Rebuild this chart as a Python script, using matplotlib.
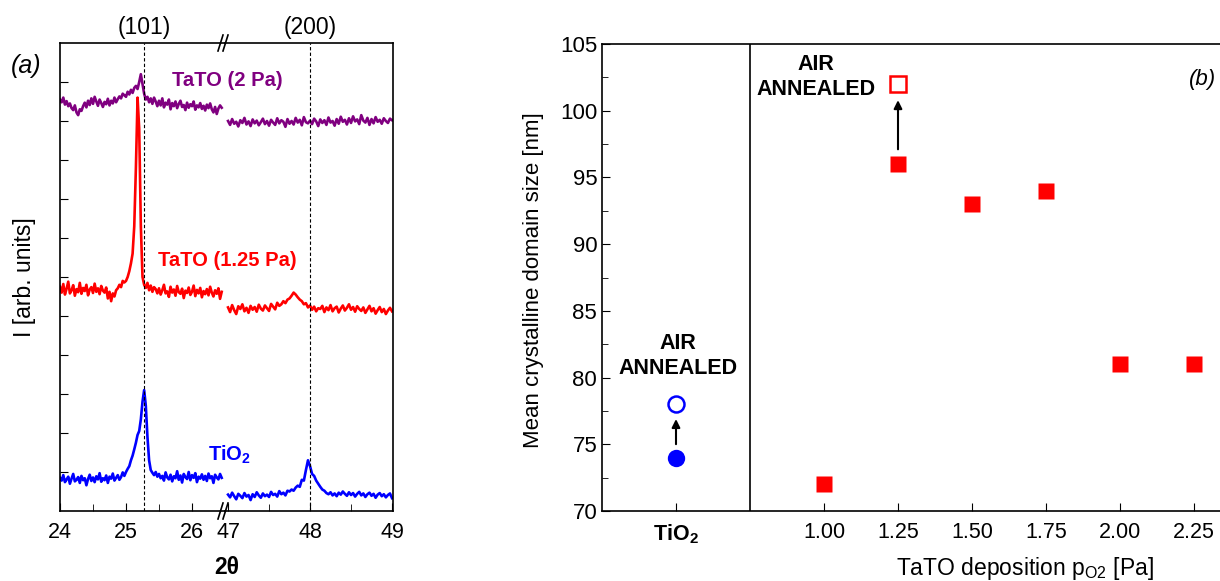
import numpy as np
import matplotlib
matplotlib.use('Agg')
from matplotlib import pyplot as plt

plt.rcParams['font.family'] = ['Liberation Sans', 'DejaVu Sans']
plt.rcParams['mathtext.fontset'] = 'custom'
plt.rcParams['mathtext.rm'] = 'Liberation Sans'
plt.rcParams['mathtext.bf'] = 'Liberation Sans:bold'
plt.rcParams['mathtext.it'] = 'Liberation Sans:italic'

# ---------------- panel (a): XRD spectra (arb. units, offset) ----------------
x_low_start, x_low_step = 24.0, 0.025
x_high_start, x_high_step = 47.0, 0.025

tio2_low = [0.85, 0.78, 0.92, 0.74, 0.81, 0.88, 0.70, 0.83, 0.95, 0.76,
            0.80, 0.87, 0.72, 0.90, 0.79, 0.84, 0.66, 0.82, 0.93, 0.77,
            0.86, 0.74, 0.89, 0.81, 0.97, 0.75, 0.84, 0.79, 0.91, 0.72,
            0.88, 0.83, 0.96, 0.78, 0.85, 0.92, 0.80, 0.87, 0.99, 0.90,
            1.00, 1.08, 1.15, 1.30, 1.42, 1.58, 1.75, 1.95, 2.05, 2.35,
            2.80, 3.10, 2.70, 1.90, 1.30, 1.05, 0.98, 0.92, 1.00, 0.88,
            0.95, 0.84, 0.90, 0.78, 0.99, 0.86, 0.81, 0.93, 0.76, 0.89,
            0.84, 1.02, 0.80, 0.91, 0.73, 0.95, 0.87, 0.82, 1.00, 0.79,
            0.92, 0.85, 0.97, 0.74, 0.88, 0.83, 0.94, 0.80, 0.90, 0.77,
            0.96, 0.84, 0.89, 0.72, 0.93, 0.86, 0.81, 0.95, 0.85]
tio2_high = [0.42, 0.35, 0.47, 0.38, 0.30, 0.44, 0.39, 0.33, 0.46, 0.37,
             0.41, 0.28, 0.43, 0.36, 0.48, 0.40, 0.34, 0.45, 0.38, 0.42,
             0.36, 0.49, 0.41, 0.44, 0.37, 0.51, 0.43, 0.47, 0.40, 0.52,
             0.50, 0.55, 0.52, 0.60, 0.65, 0.62, 0.80, 0.78, 1.05, 1.30,
             1.15, 0.95, 0.90, 0.78, 0.70,
             0.62, 0.55, 0.52, 0.46, 0.43, 0.48, 0.40, 0.45, 0.38, 0.47,
             0.42, 0.50, 0.44, 0.39, 0.48, 0.41, 0.46, 0.37, 0.44, 0.49,
             0.40, 0.45, 0.36, 0.43, 0.47, 0.39, 0.44, 0.34, 0.42, 0.46,
             0.38, 0.43, 0.35, 0.41, 0.45, 0.33]

tato125_low = [5.75, 5.60, 5.82, 5.55, 5.70, 5.88, 5.58, 5.66, 5.79, 5.52,
               5.69, 5.61, 5.85, 5.57, 5.72, 5.64, 5.80, 5.53, 5.68, 5.74,
               5.59, 5.83, 5.62, 5.71, 5.56, 5.77, 5.65, 5.60, 5.73, 5.45,
               5.62, 5.38, 5.58, 5.50, 5.66, 5.71, 5.80, 5.74, 5.90, 5.86,
               5.90, 6.00, 6.15, 6.35, 6.60, 7.30, 8.80, 10.60, 9.80, 7.30,
               6.00, 5.80, 5.72, 5.85, 5.66, 5.78, 5.62, 5.74, 5.69, 5.58,
               5.71, 5.55, 5.66, 5.80, 5.58, 5.63, 5.49, 5.75, 5.60, 5.68,
               5.52, 5.77, 5.61, 5.57, 5.70, 5.46, 5.65, 5.59, 5.73, 5.54,
               5.62, 5.78, 5.51, 5.67, 5.58, 5.72, 5.48, 5.64, 5.56, 5.69,
               5.53, 5.75, 5.60, 5.50, 5.66, 5.57, 5.71, 5.44, 5.62]
tato125_high = [5.22, 5.10, 5.28, 5.15, 5.05, 5.25, 5.18, 5.30, 5.12, 5.21,
                5.08, 5.26, 5.16, 5.23, 5.11, 5.29, 5.19, 5.14, 5.27, 5.20,
                5.13, 5.31, 5.24, 5.17, 5.34, 5.26, 5.30, 5.38, 5.33, 5.42,
                5.45, 5.52, 5.60, 5.55, 5.48, 5.42, 5.38, 5.30, 5.33, 5.22,
                5.27, 5.16, 5.24, 5.12, 5.20,
                5.18, 5.26, 5.10, 5.22, 5.15, 5.28, 5.12, 5.20, 5.24, 5.09,
                5.19, 5.27, 5.14, 5.21, 5.30, 5.16, 5.23, 5.11, 5.25, 5.18,
                5.13, 5.22, 5.08, 5.17, 5.26, 5.12, 5.20, 5.06, 5.15, 5.23,
                5.10, 5.18, 5.05, 5.14, 5.21, 5.12]

tato2_low = [10.55, 10.48, 10.60, 10.42, 10.51, 10.38, 10.45, 10.33, 10.28, 10.40,
             10.22, 10.15, 10.30, 10.26, 10.38, 10.47, 10.35, 10.52, 10.41, 10.58,
             10.44, 10.62, 10.50, 10.39, 10.55, 10.46, 10.36, 10.49, 10.43, 10.57,
             10.40, 10.52, 10.45, 10.60, 10.48, 10.56, 10.63, 10.58, 10.70, 10.66,
             10.62, 10.75, 10.68, 10.80, 10.72, 10.85, 10.90, 10.82, 11.00, 11.20,
             10.95, 10.70, 10.55, 10.62, 10.48, 10.58, 10.44, 10.60, 10.50, 10.38,
             10.52, 10.40, 10.58, 10.35, 10.47, 10.42, 10.55, 10.30, 10.46, 10.38,
             10.50, 10.33, 10.44, 10.52, 10.36, 10.41, 10.28, 10.47, 10.34, 10.43,
             10.38, 10.50, 10.29, 10.40, 10.35, 10.46, 10.31, 10.39, 10.27, 10.42,
             10.33, 10.45, 10.30, 10.22, 10.36, 10.18, 10.32, 10.40, 10.34]
tato2_high = [10.00, 9.90, 10.05, 9.93, 9.98, 9.86, 10.02, 9.95, 10.08, 9.91,
              9.99, 9.87, 10.04, 9.94, 10.01, 9.89, 9.97, 10.06, 9.92, 10.00,
              9.88, 10.03, 9.96, 9.90, 10.07, 9.94, 10.02, 9.98, 9.85, 10.05,
              9.93, 10.00, 9.91, 10.08, 9.96, 10.03, 9.89, 10.10, 9.97, 9.94,
              10.01, 9.92, 10.06, 9.99, 9.87, 10.04, 9.95, 10.02, 9.90, 10.09,
              9.96, 10.00, 9.88, 10.05, 9.93, 10.11, 9.98, 10.03, 9.91, 10.07,
              9.95, 10.12, 9.99, 10.04, 9.92, 10.15, 10.01, 9.96, 10.08, 9.90,
              10.05, 9.94, 10.10, 9.98, 10.03, 9.93, 10.07, 10.00, 9.95, 10.06,
              10.02]

peak_pos = [25.27, 48.0]
peak_names = ['(101)', '(200)']

# ---------------- panel (b): domain size ----------------
tio2_x = 0.5
tio2_asdep, tio2_ann = 74, 78
p_o2 = [1.00, 1.25, 1.50, 1.75, 2.00, 2.25]
size_tato = [72, 96, 93, 94, 81, 81]
p_ann, size_ann = 1.25, 102

W, H = 1220, 581
def fx(px):
    return px / W
def fy(py):
    return 1 - py / H

fig = plt.figure(figsize=(12.2, 5.81), dpi=100)

# left panel: broken x axis made of two axes
bot, hgt = fy(511), (511 - 43) / H
a1 = fig.add_axes([fx(60), bot, fx(165), hgt])
a2 = fig.add_axes([fx(225), bot, fx(168), hgt])

xl = x_low_start + x_low_step * np.arange(len(tio2_low))
xh = x_high_start + x_high_step * np.arange(len(tio2_high))

for ax, xs, series in [(a1, xl, (tato2_low, tato125_low, tio2_low)),
                       (a2, xh, (tato2_high, tato125_high, tio2_high))]:
    for data, c in zip(series, ['#800080', '#ff0000', '#0000ff']):
        ax.plot(xs, data, color=c, lw=1.9)
    ax.set_ylim(0, 12)
    ax.tick_params(direction='in', which='both', labelsize=15.5, top=False, right=False)
    for s in ax.spines.values():
        s.set_linewidth(1.2)

a1.set_xlim(24, 26.5)
a2.set_xlim(46.963, 49.012)
a1.spines['right'].set_visible(False)
a2.spines['left'].set_visible(False)
a1.set_xticks([24, 25, 26])
a1.set_xticks([24.5, 25.5], minor=True)
a2.set_xticks([47, 48, 49])
a2.set_xticks([47.5, 48.5], minor=True)
a1.set_yticks(range(1, 12))
a1.set_yticklabels([])
a2.set_yticks([])
a1.tick_params(axis='y', length=6)
for ax in (a1, a2):
    ax.tick_params(axis='x', which='major', length=6, pad=8)
    ax.tick_params(axis='x', which='minor', length=5)

a1.axvline(peak_pos[0], color='k', lw=0.8, dashes=(3, 2))
a2.axvline(peak_pos[1], color='k', lw=0.8, dashes=(3, 2))
a1.text(peak_pos[0], 1.034, peak_names[0], transform=a1.get_xaxis_transform(),
        ha='center', va='center', fontsize=16.5)
a2.text(peak_pos[1], 1.034, peak_names[1], transform=a2.get_xaxis_transform(),
        ha='center', va='center', fontsize=16.5)

# break marks
for yb in (43, 511):
    for dx in (-4, 1):
        fig.add_artist(plt.Line2D([fx(222 + dx), fx(227 + dx)], [fy(yb + 8), fy(yb - 8)],
                                  color='k', lw=1.2))

fig.text(fx(26), fy(66), '(a)', fontsize=18, style='italic', ha='center', va='center')
fig.text(fx(227), fy(80), 'TaTO (2 Pa)', color='#800080', fontsize=14.5, fontweight='bold',
         ha='center', va='center')
fig.text(fx(227), fy(261), 'TaTO (1.25 Pa)', color='#ff0000', fontsize=14.5, fontweight='bold',
         ha='center', va='center')
fig.text(fx(229), fy(455), r'TiO$_\mathbf{2}$', color='#0000ff', fontsize=14.5, fontweight='bold',
         ha='center', va='center')
fig.text(fx(227), fy(567), '2θ', fontsize=16.5, fontweight='bold', ha='center', va='center')
fig.text(fx(25), fy(277), 'I [arb. units]', fontsize=16.5, rotation=90, ha='center', va='center')

# right panel
b = fig.add_axes([fx(602), fy(511), fx(1268 - 602), (511 - 44) / H])
b.set_xlim(0.25, 2.5)
b.set_ylim(70, 105)
b.axvline(0.75, color='k', lw=1.2)
b.plot(p_o2, size_tato, 's', color='#ff0000', ms=12, mec='none')
b.plot([p_ann], [size_ann], 's', mfc='none', mec='#ff0000', mew=1.8, ms=11)
b.plot([tio2_x], [tio2_asdep], 'o', color='#0000ff', ms=12.5, mec='none')
b.plot([tio2_x], [tio2_ann], 'o', mfc='none', mec='#0000ff', mew=1.8, ms=11.5)
b.annotate('', xy=(tio2_x, 77.1), xytext=(tio2_x, 74.8),
           arrowprops=dict(arrowstyle='-|>', color='k', lw=1.5, mutation_scale=12))
b.annotate('', xy=(p_ann, 101.0), xytext=(p_ann, 96.9),
           arrowprops=dict(arrowstyle='-|>', color='k', lw=1.5, mutation_scale=12))

b.set_xticks([tio2_x] + p_o2)
b.set_xticklabels([r'TiO$_\mathbf{2}$'] + ['%.2f' % v for v in p_o2])
b.get_xticklabels()[0].set_fontweight('bold')
b.set_yticks(range(70, 106, 5))
b.set_yticks(np.arange(72.5, 105, 5), minor=True)
b.tick_params(direction='in', which='both', top=False, right=False)
b.tick_params(axis='y', labelsize=16)
b.tick_params(axis='x', labelsize=15.5, pad=8)
b.tick_params(which='major', length=6)
b.tick_params(which='minor', length=4)
for s in b.spines.values():
    s.set_linewidth(1.2)

fig.text(fx(678), fy(356), 'AIR\nANNEALED', fontsize=15.5, fontweight='bold',
         ha='center', va='center')
fig.text(fx(816), fy(77), 'AIR\nANNEALED', fontsize=15.5, fontweight='bold',
         ha='center', va='center')
fig.text(fx(1203), fy(80), '(b)', fontsize=16, style='italic', ha='center', va='center')
fig.text(fx(533), fy(280), 'Mean crystalline domain size [nm]', fontsize=16,
         rotation=90, ha='center', va='center')
fig.text(fx(1025), fy(569), r'TaTO deposition p$_{\mathrm{O2}}$ [Pa]', fontsize=16.5,
         ha='center', va='center')

fig.savefig('out.png', dpi=100)
